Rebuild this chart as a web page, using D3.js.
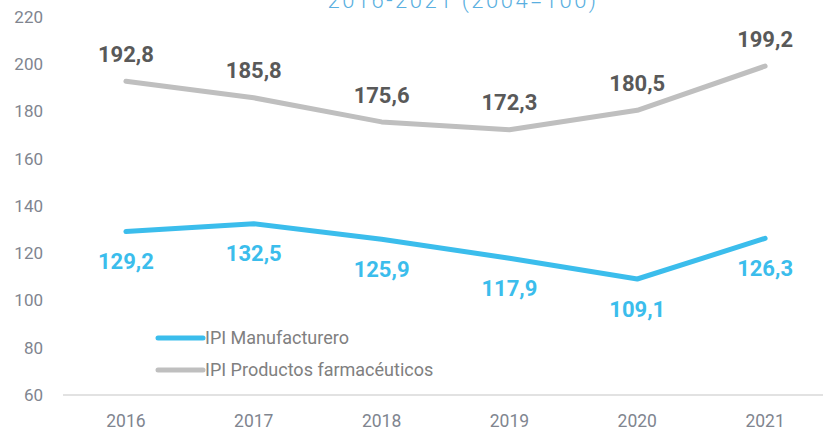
<!DOCTYPE html>
<html>
<head>
<meta charset="utf-8">
<script src="https://cdn.jsdelivr.net/npm/d3@7"></script>
<style>
  body { margin: 0; background: #fff; }
  svg { display: block; font-family: Roboto, "Noto Sans", sans-serif; }
</style>
</head>
<body>
<div id="chart"></div>
<script>
// data
const years = ["2016", "2017", "2018", "2019", "2020", "2021"];
const manufacturero = [129.2, 132.5, 125.9, 117.9, 109.1, 126.3];
const farmaceuticos = [192.8, 185.8, 175.6, 172.3, 180.5, 199.2];
const yTicks = [60, 80, 100, 120, 140, 160, 180, 200, 220];
const seriesNames = ["IPI Manufacturero", "IPI Productos farmacéuticos"];

const width = 823;
const height = 431;

const svg = d3.select("#chart")
  .append("svg")
  .attr("width", width)
  .attr("height", height);

// scales
const x = d3.scaleBand()
  .domain(years)
  .range([62, 829]);

const y = d3.scaleLinear()
  .domain([60, 220])
  .range([395, 17]);

const xc = (d) => x(d) + x.bandwidth() / 2;

// title (cut off at top, as in the source)
svg.append("text")
  .attr("x", 463)
  .attr("y", 8)
  .attr("text-anchor", "middle")
  .attr("fill", "#5aafe0")
  .style("font-size", "22px")
  .style("font-weight", 300)
  .style("letter-spacing", "2.5px")
  .text("2016-2021 (2004=100)");

// y axis labels
svg.append("g")
  .selectAll("text")
  .data(yTicks)
  .enter()
  .append("text")
  .attr("x", 43)
  .attr("y", (d) => y(d))
  .attr("dy", "0.35em")
  .attr("text-anchor", "end")
  .attr("fill", "#80858f")
  .style("font-size", "17px")
  .text((d) => d);

// baseline
svg.append("line")
  .attr("x1", 63)
  .attr("x2", width)
  .attr("y1", y(60))
  .attr("y2", y(60))
  .attr("stroke", "#d9d9d9")
  .attr("stroke-width", 1.5);

// x axis labels
svg.append("g")
  .selectAll("text")
  .data(years)
  .enter()
  .append("text")
  .attr("x", (d) => xc(d))
  .attr("y", 421)
  .attr("dy", "0.35em")
  .attr("text-anchor", "middle")
  .attr("fill", "#80858f")
  .style("font-size", "17.5px")
  .text((d) => d);

// lines
const line = d3.line()
  .x((d, i) => xc(years[i]))
  .y((d) => y(d));

const series = [
  { name: seriesNames[0], values: manufacturero, color: "#3bbdec", label: "#3bbdec", dy: 30 },
  { name: seriesNames[1], values: farmaceuticos, color: "#bfbfbf", label: "#595959", dy: -27 }
];

series.forEach((s) => {
  svg.append("path")
    .datum(s.values)
    .attr("d", line)
    .attr("fill", "none")
    .attr("stroke", s.color)
    .attr("stroke-width", 5)
    .attr("stroke-linecap", "round")
    .attr("stroke-linejoin", "round");

  svg.append("g")
    .selectAll("text")
    .data(s.values)
    .enter()
    .append("text")
    .attr("x", (d, i) => xc(years[i]))
    .attr("y", (d) => y(d) + s.dy)
    .attr("dy", "0.35em")
    .attr("text-anchor", "middle")
    .attr("fill", s.label)
    .style("font-size", "22px")
    .style("font-weight", "bold")
    .text((d) => d.toFixed(1).replace(".", ","));
});

// legend
const legend = svg.append("g")
  .attr("transform", "translate(158, 338)");

legend.selectAll("g")
  .data(series)
  .enter()
  .append("g")
  .attr("transform", (d, i) => `translate(0, ${i * 32})`)
  .each(function (d) {
    const g = d3.select(this);
    g.append("line")
      .attr("x1", 0)
      .attr("x2", 45)
      .attr("stroke", d.color)
      .attr("stroke-width", 5)
      .attr("stroke-linecap", "round");
    g.append("text")
      .attr("x", 47)
      .attr("dy", "0.35em")
      .attr("fill", "#808080")
      .style("font-size", "18px")
      .text(d.name);
  });
</script>
</body>
</html>
